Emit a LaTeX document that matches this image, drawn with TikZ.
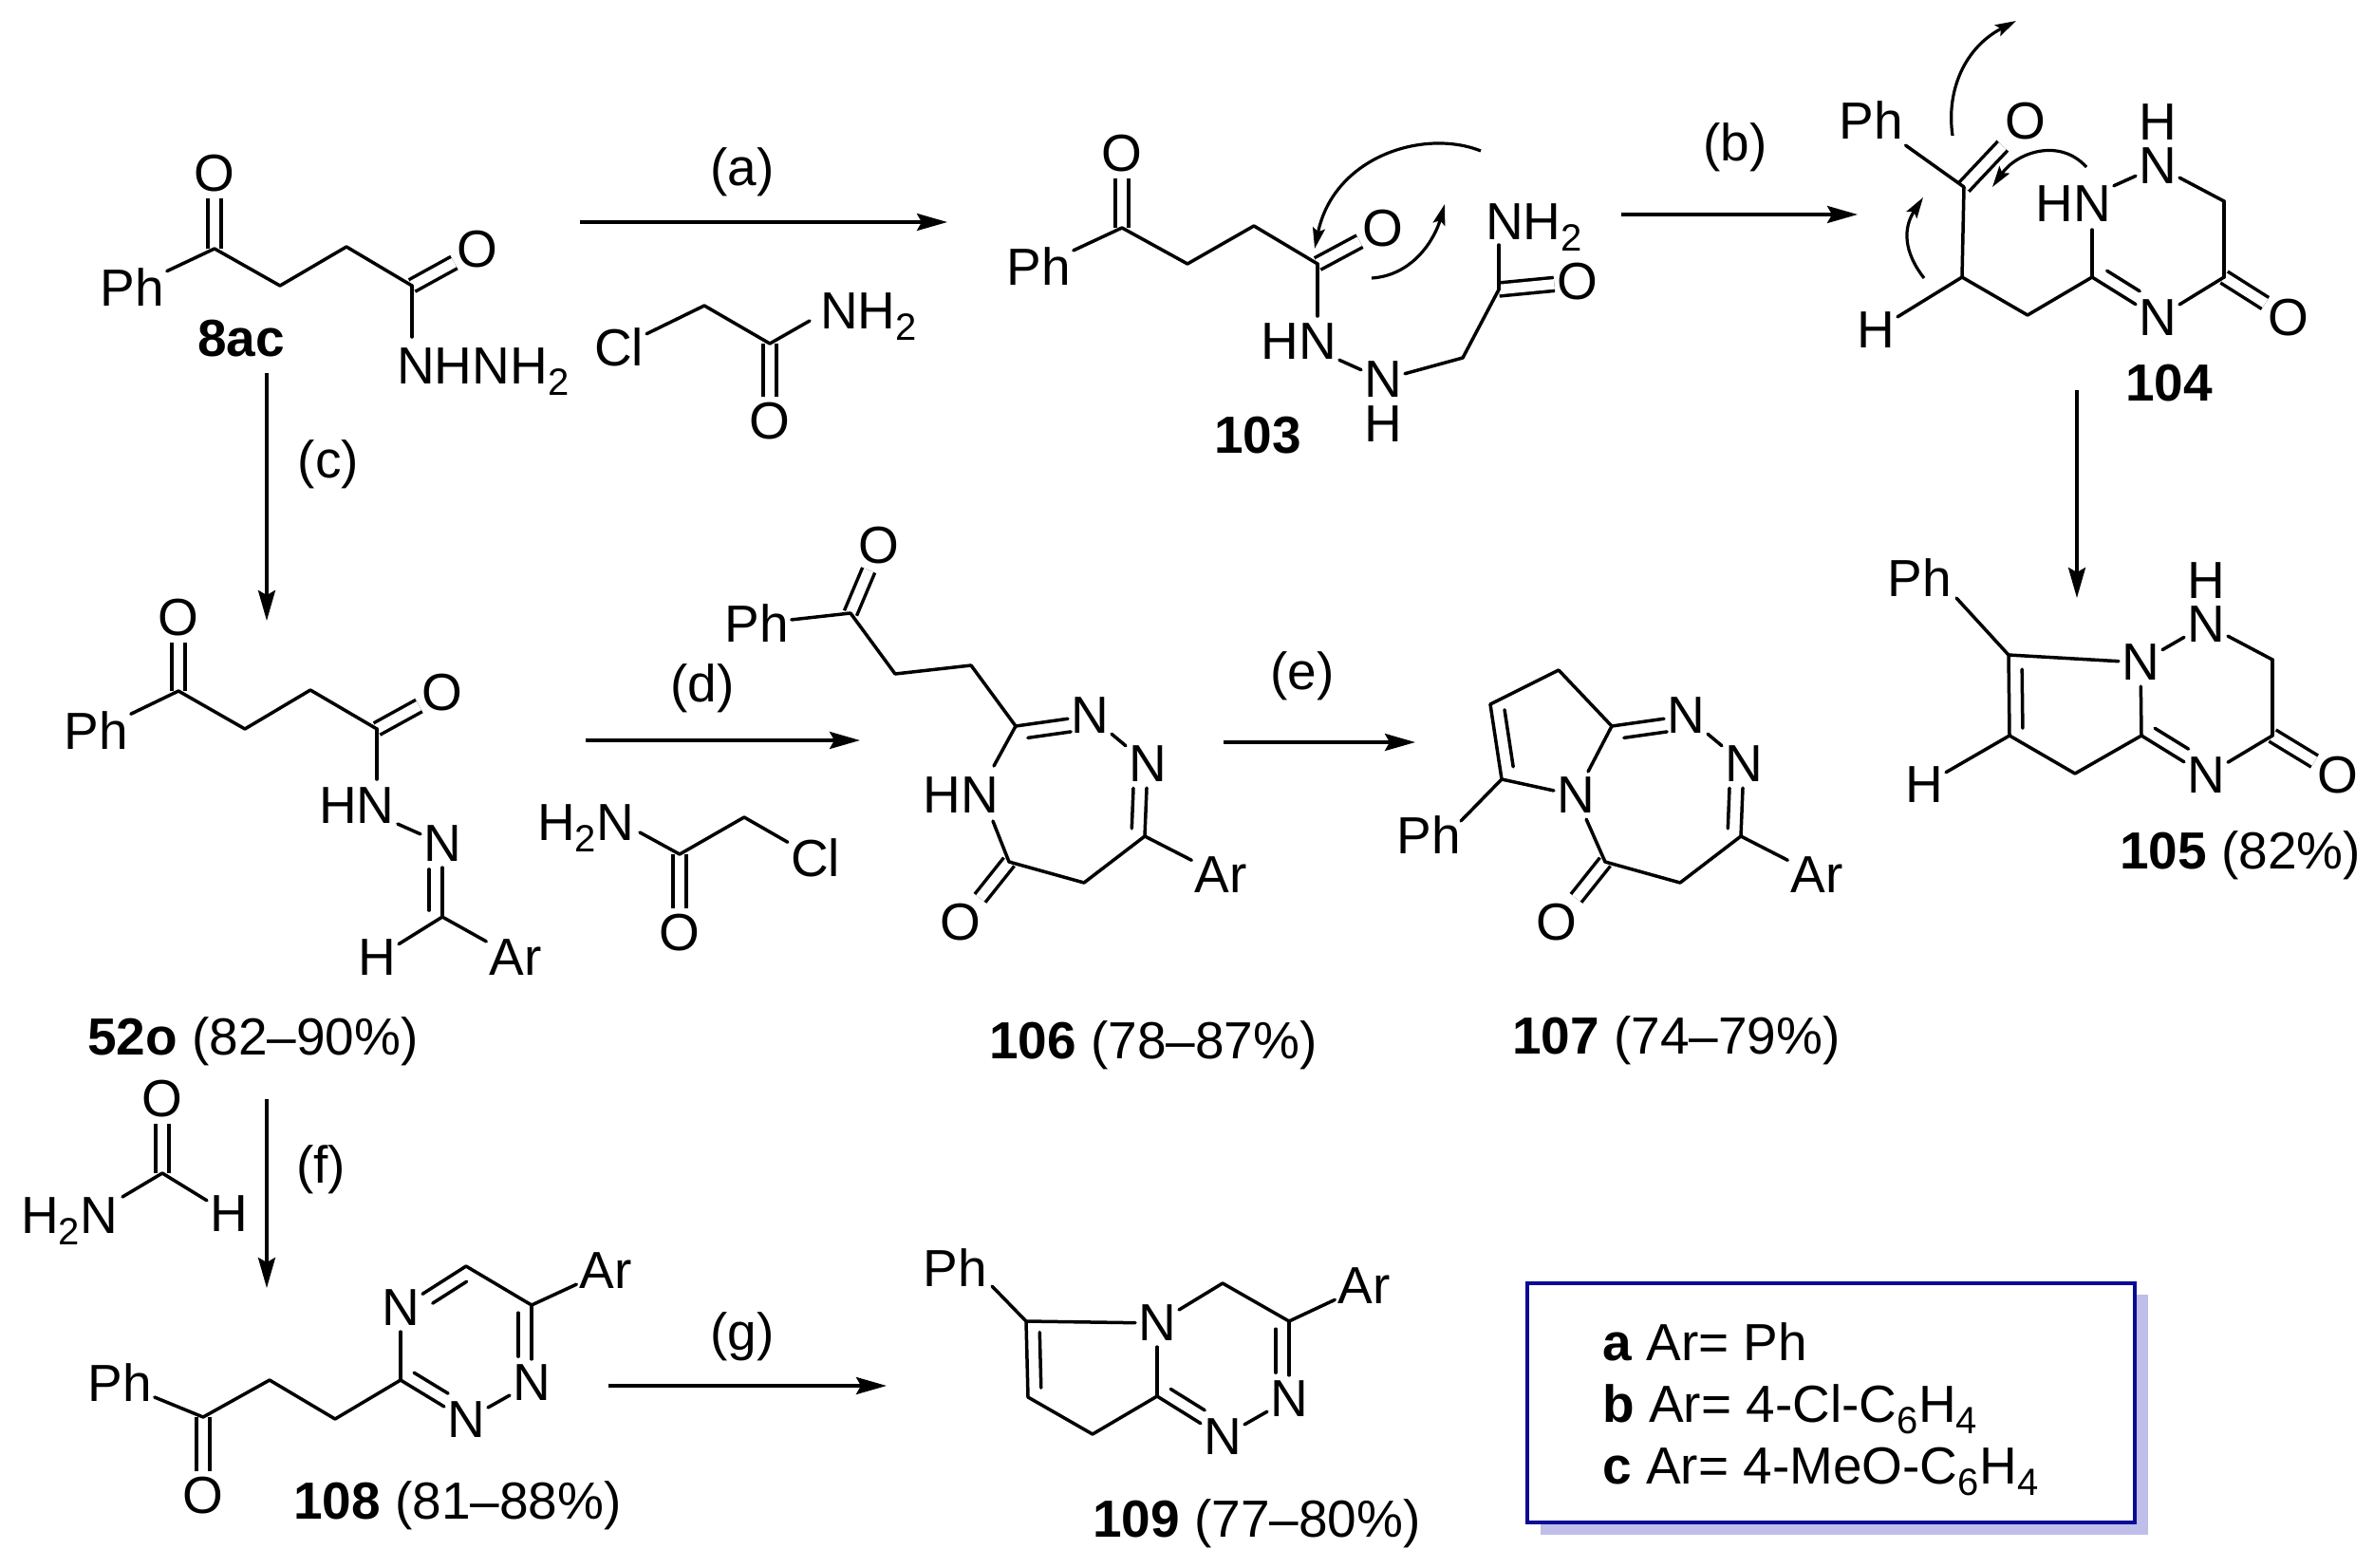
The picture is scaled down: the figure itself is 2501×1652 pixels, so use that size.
\documentclass[tikz,border=0pt]{standalone}
\usepackage{fontspec}
\setmainfont{Liberation Sans}
\usetikzlibrary{calc,arrows.meta}
\newcommand{\subs}[1]{\raisebox{-12pt}{\fontsize{40pt}{42pt}\selectfont #1}\kern0.6pt}
\newcommand{\atomn}[4]{\node[atom] (#1) at (#2,#3) {#4};}
\newcommand{\carb}[3]{\coordinate (#1) at (#2,#3);}
\newcommand{\sbond}[2]{\draw[bond] (#1) -- (#2);}
\newcommand{\cdbond}[2]{\draw[dbond] (#1) -- (#2);}
\newcommand{\rdbond}[5]{\draw[bond] (#1) -- (#2);
  \draw[bond] ($(#1)!#4!(#2)!14pt!#3:(#2)$) -- ($(#1)!#5!(#2)!14pt!#3:(#2)$);}
\tikzset{
  atom/.style={font=\fontsize{55pt}{60pt}\selectfont,inner xsep=3pt,inner ysep=6pt},
  tightatom/.style={atom,inner ysep=0pt},
  txt/.style={font=\fontsize{55pt}{60pt}\selectfont,inner sep=0pt},
  bond/.style={line width=3.5pt,line cap=round,line join=round},
  dbond/.style={line width=3.5pt,double,double distance=10.5pt},
  rxn/.style={line width=3.5pt,-{Stealth[length=32pt,width=18pt,inset=5pt]}},
  curly/.style={line width=3.2pt,-{Stealth[length=22pt,width=13pt,inset=4pt]}},
  legendbox/.style={draw=legendblue,line width=4.5pt,fill=white,minimum width=640pt,minimum height=252pt,inner sep=0pt}
}
\definecolor{legendblue}{RGB}{10,10,150}
\definecolor{legendshadow}{RGB}{190,190,232}
\begin{document}
\begin{tikzpicture}[x=1pt,y=-1pt]
\useasboundingbox (0,0) rectangle (2501,1652);
\fill[white] (0,0) rectangle (2501,1652);

% ---------- 8ac
\atomn{aO1}{226}{183}{O} \atomn{aPh}{139}{303}{Ph} \atomn{aO2}{503}{263}{O}
\carb{aC1}{226}{262} \carb{aC2}{295}{301} \carb{aC3}{365}{260} \carb{aC4}{434}{301} \carb{aNe}{434}{355}
\node[txt,anchor=base west] (aN) at (418,404) {NHNH\subs{2}};
\cdbond{aC1}{aO1} \cdbond{aC4}{aO2}
\sbond{aPh}{aC1} \sbond{aC1}{aC2} \sbond{aC2}{aC3} \sbond{aC3}{aC4} \sbond{aC4}{aNe}
\node[txt] (l8ac) at (254,357) {\bfseries 8ac};

% ---------- chloroacetamide (a)
\atomn{rCl}{652}{366}{Cl} \atomn{rO}{811}{444}{O}
\carb{rC1}{742}{322} \carb{rC2}{811}{362} \carb{rNe}{853}{338}
\node[txt,anchor=base west] (rN) at (864,346) {NH\subs{2}};
\cdbond{rC2}{rO}
\sbond{rCl}{rC1} \sbond{rC1}{rC2} \sbond{rC2}{rNe}

% ---------- 103
\atomn{bO1}{1182}{162}{O} \atomn{bPh}{1094}{281}{Ph} \atomn{bO2}{1457}{241}{O}
\atomn{bHN}{1368}{360}{HN} \atomn{bN}{1457}{400}{N} \node[tightatom] (bH) at (1457,447) {H}; \atomn{bO3}{1662}{297}{O}
\carb{bC1}{1182}{240} \carb{bC2}{1251}{278} \carb{bC3}{1321}{238} \carb{bC4}{1388}{278}
\carb{bC5}{1541}{377} \carb{bC6}{1579}{305} \carb{bNe}{1579}{258} \carb{bHNe}{1388}{333}
\node[txt,anchor=base west] (bNH) at (1565,252) {NH\subs{2}};
\cdbond{bC1}{bO1} \cdbond{bC4}{bO2} \cdbond{bC6}{bO3}
\sbond{bPh}{bC1} \sbond{bC1}{bC2} \sbond{bC2}{bC3} \sbond{bC3}{bC4} \sbond{bC4}{bHNe}
\sbond{bHN}{bN} \sbond{bN}{bC5} \sbond{bC5}{bC6} \sbond{bC6}{bNe}
\node[txt] (l103) at (1325,459) {\bfseries 103};
\carb{bc1s}{1560}{159} \carb{bc1e}{1385}{262} \carb{bc2s}{1445}{293} \carb{bc2e}{1522}{215}
\draw[curly] (bc1s) .. controls (1500,135) and (1405,165) .. (bc1e);
\draw[curly] (bc2s) .. controls (1490,290) and (1512,250) .. (bc2e);

% ---------- 104
\atomn{cPh}{1971}{127}{Ph} \atomn{cO1}{2134}{128}{O} \node[tightatom] (cH1) at (2273,129) {H}; \atomn{cN1}{2273}{175}{N}
\atomn{cHN}{2184}{215}{HN} \atomn{cN2}{2273}{335}{N} \atomn{cO2}{2411}{335}{O} \atomn{cH2}{1976}{348}{H}
\carb{cC1}{2069}{197} \carb{cC2}{2067}{292} \carb{cC3}{2136}{332} \carb{cC4}{2204}{292}
\carb{cC5}{2343}{212} \carb{cC6}{2343}{292} \carb{cHNe}{2204}{242}
\cdbond{cC1}{cO1} \cdbond{cC6}{cO2}
\sbond{cPh}{cC1} \sbond{cC1}{cC2} \sbond{cC2}{cH2} \sbond{cC2}{cC3} \sbond{cC3}{cC4} \sbond{cC4}{cHNe}
\sbond{cHN}{cN1} \sbond{cN1}{cC5} \sbond{cC5}{cC6} \sbond{cC6}{cN2}
\rdbond{cC4}{cN2}{90}{0.12}{0.62}
\node[txt] (l104) at (2285,404) {\bfseries 104};
\carb{cc1s}{2057}{143} \carb{cc1e}{2124}{22} \carb{cc2s}{2198}{176} \carb{cc2e}{2099}{197} \carb{cc3s}{2027}{293} \carb{cc3e}{2026}{208}
\draw[curly] (cc1s) .. controls (2050,95) and (2070,50) .. (cc1e);
\draw[curly] (cc2s) .. controls (2170,145) and (2125,160) .. (cc2e);
\draw[curly] (cc3s) .. controls (2005,265) and (2005,240) .. (cc3e);

% ---------- 105
\atomn{dPh}{2022}{609}{Ph} \atomn{dN1}{2255}{698}{N} \node[tightatom] (dH1) at (2324,612) {H}; \atomn{dN2}{2324}{658}{N}
\atomn{dN3}{2324}{817}{N} \atomn{dO}{2463}{817}{O} \atomn{dH2}{2027}{827}{H}
\carb{dC1}{2116}{690} \carb{dC2}{2117}{775} \carb{dC3}{2186}{815} \carb{dC4}{2256}{775} \carb{dC5}{2394}{695} \carb{dC6}{2394}{775} \carb{dPe}{2061}{630}
\cdbond{dC6}{dO}
\sbond{dPe}{dC1} \sbond{dC1}{dN1} \sbond{dN1}{dN2} \sbond{dN2}{dC5} \sbond{dC5}{dC6} \sbond{dC6}{dN3}
\sbond{dN1}{dC4} \sbond{dC2}{dH2} \sbond{dC2}{dC3} \sbond{dC3}{dC4}
\rdbond{dC1}{dC2}{90}{0.18}{0.91}
\rdbond{dC4}{dN3}{90}{0.1}{0.62}
\node[txt,anchor=base west] (l105) at (2233,915) {\textbf{105} (82\%)};

% ---------- 52o
\atomn{eO1}{188}{651}{O} \atomn{ePh}{101}{770}{Ph} \atomn{eO2}{466}{730}{O} \atomn{eHN}{376}{849}{HN}
\atomn{eN}{466}{889}{N} \atomn{eH}{397}{1009}{H} \atomn{eAr}{543}{1009}{Ar}
\carb{eC1}{188}{728} \carb{eC2}{258}{768} \carb{eC3}{327}{727} \carb{eC4}{397}{768} \carb{eC5}{466}{966} \carb{eHNe}{397}{821}
\cdbond{eC1}{eO1} \cdbond{eC4}{eO2}
\sbond{ePh}{eC1} \sbond{eC1}{eC2} \sbond{eC2}{eC3} \sbond{eC3}{eC4} \sbond{eC4}{eHNe}
\sbond{eHN}{eN} \sbond{eC5}{eH} \sbond{eC5}{eAr}
\rdbond{eC5}{eN}{90}{0.09}{0.65}
\node[txt,anchor=base west] (l52o) at (92,1111) {\textbf{52o} (82–90\%)};

% ---------- chloroacetamide (d)
\atomn{sO}{716}{983}{O} \atomn{sCl}{859}{904}{Cl}
\carb{sC1}{716}{900} \carb{sC2}{784}{861} \carb{sNe}{674}{877}
\node[txt,anchor=base west] (sN) at (566,885) {H\subs{2}N};
\cdbond{sC1}{sO}
\sbond{sNe}{sC1} \sbond{sC1}{sC2} \sbond{sC2}{sCl}

% ---------- 106
\atomn{fO1}{926}{575}{O} \atomn{fPh}{797}{657}{Ph} \atomn{fN1}{1148}{754}{N} \atomn{fN2}{1209}{805}{N}
\atomn{fHN}{1012}{838}{HN} \atomn{fAr}{1286}{922}{Ar} \atomn{fO2}{1012}{972}{O}
\carb{fC1}{896}{646} \carb{fC2}{943}{710} \carb{fC3}{1023}{701} \carb{fC4}{1070}{765}
\carb{fC5}{1206}{881} \carb{fC6}{1142}{930} \carb{fC7}{1063}{908} \carb{fHNa}{1047}{807} \carb{fHNb}{1046}{865}
\cdbond{fC1}{fO1} \cdbond{fC7}{fO2}
\sbond{fPh}{fC1} \sbond{fC1}{fC2} \sbond{fC2}{fC3} \sbond{fC3}{fC4} \sbond{fC4}{fHNa} \sbond{fHNb}{fC7}
\sbond{fN1}{fN2} \sbond{fC5}{fAr} \sbond{fC5}{fC6} \sbond{fC6}{fC7}
\rdbond{fC4}{fN1}{-90}{0.14}{0.72}
\rdbond{fC5}{fN2}{90}{0.1}{0.66}
\node[txt,anchor=base west] (l106) at (1042,1115) {\textbf{106} (78–87\%)};

% ---------- 107
\atomn{gPh}{1505}{880}{Ph} \atomn{gN0}{1660}{838}{N} \atomn{gN1}{1776}{754}{N} \atomn{gN2}{1837}{805}{N}
\atomn{gAr}{1914}{922}{Ar} \atomn{gO}{1640}{972}{O}
\carb{gC1}{1698}{765} \carb{gC2}{1642}{706} \carb{gC3}{1570}{742} \carb{gC4}{1582}{821}
\carb{gC5}{1834}{881} \carb{gC6}{1770}{930} \carb{gC7}{1691}{908} \carb{gPe}{1539}{865}
\cdbond{gC7}{gO}
\sbond{gC1}{gC2} \sbond{gC2}{gC3} \sbond{gC4}{gPe} \sbond{gC4}{gN0} \sbond{gC1}{gN0} \sbond{gN0}{gC7}
\sbond{gN1}{gN2} \sbond{gC5}{gAr} \sbond{gC5}{gC6} \sbond{gC6}{gC7}
\rdbond{gC3}{gC4}{90}{0.1}{0.86}
\rdbond{gC1}{gN1}{-90}{0.14}{0.72}
\rdbond{gC5}{gN2}{90}{0.1}{0.66}
\node[txt,anchor=base west] (l107) at (1593,1110) {\textbf{107} (74–79\%)};

% ---------- formamide (f)
\atomn{hO}{171}{1158}{O} \atomn{hH}{241}{1279}{H}
\carb{hC}{171}{1236} \carb{hNe}{129}{1261}
\node[txt,anchor=base west] (hN) at (22,1299) {H\subs{2}N};
\cdbond{hC}{hO}
\sbond{hNe}{hC} \sbond{hC}{hH}

% ---------- 108
\atomn{iPh}{126}{1457}{Ph} \atomn{iO}{214}{1576}{O} \atomn{iN1}{422}{1378}{N} \atomn{iN2}{560}{1457}{N}
\atomn{iN3}{491}{1496}{N} \atomn{iAr}{638}{1339}{Ar}
\carb{iC1}{214}{1493} \carb{iC2}{284}{1454} \carb{iC3}{353}{1495} \carb{iC4}{422}{1454} \carb{iC5}{491}{1334} \carb{iC6}{560}{1375}
\cdbond{iC1}{iO}
\sbond{iPh}{iC1} \sbond{iC1}{iC2} \sbond{iC2}{iC3} \sbond{iC3}{iC4} \sbond{iC4}{iN1}
\sbond{iC5}{iC6} \sbond{iC6}{iAr} \sbond{iN2}{iN3}
\rdbond{iC5}{iN1}{90}{0.1}{0.62}
\rdbond{iC6}{iN2}{-90}{0.1}{0.66}
\rdbond{iC4}{iN3}{90}{0.1}{0.62}
\node[txt,anchor=base west] (l108) at (309,1600) {\textbf{108} (81–88\%)};

% ---------- 109
\atomn{jPh}{1006}{1336}{Ph} \atomn{jN1}{1219}{1394}{N} \atomn{jAr}{1437}{1355}{Ar} \atomn{jN2}{1358}{1474}{N} \atomn{jN3}{1288}{1514}{N}
\carb{jC1}{1081}{1392} \carb{jC2}{1083}{1472} \carb{jC3}{1151}{1511} \carb{jC4}{1219}{1471} \carb{jC5}{1288}{1352} \carb{jC6}{1358}{1392} \carb{jPe}{1045}{1355}
\sbond{jPe}{jC1} \sbond{jC1}{jN1} \sbond{jN1}{jC5} \sbond{jC5}{jC6} \sbond{jC6}{jAr} \sbond{jN1}{jC4}
\sbond{jC2}{jC3} \sbond{jC3}{jC4} \sbond{jN2}{jN3}
\rdbond{jC1}{jC2}{90}{0.15}{0.88}
\rdbond{jC6}{jN2}{-90}{0.1}{0.66}
\rdbond{jC4}{jN3}{90}{0.1}{0.62}
\node[txt,anchor=base west] (l109) at (1151,1619) {\textbf{109} (77–80\%)};

% ---------- reaction arrows
\carb{ra1}{611}{234} \carb{ra2}{998}{234}
\carb{rb1}{1708}{226} \carb{rb2}{1957}{226}
\carb{rc1}{281}{393} \carb{rc2}{281}{654}
\carb{rd1}{617}{780} \carb{rd2}{906}{780}
\carb{re1}{1289}{782} \carb{re2}{1491}{782}
\carb{rf1}{281}{1158} \carb{rf2}{281}{1357}
\carb{rg1}{641}{1460} \carb{rg2}{934}{1460}
\carb{rh1}{2188}{411} \carb{rh2}{2188}{630}
\draw[rxn] (ra1) -- (ra2);
\draw[rxn] (rb1) -- (rb2);
\draw[rxn] (rc1) -- (rc2);
\draw[rxn] (rd1) -- (rd2);
\draw[rxn] (re1) -- (re2);
\draw[rxn] (rf1) -- (rf2);
\draw[rxn] (rg1) -- (rg2);
\draw[rxn] (rh1) -- (rh2);
\node[txt] (ta) at (782,181) {(a)};
\node[txt] (tb) at (1828,155) {(b)};
\node[txt] (tc) at (346,489) {(c)};
\node[txt] (td) at (740,725) {(d)};
\node[txt] (te) at (1372,712) {(e)};
\node[txt] (tf) at (338,1232) {(f)};
\node[txt] (tg) at (782,1408) {(g)};

% ---------- legend
\fill[legendshadow] (1623,1364) rectangle (2263,1617);
\node[legendbox] (legend) at (1929,1478) {};
\node[txt,anchor=base west] (la) at (1688,1433) {\textbf{a} Ar= Ph};
\node[txt,anchor=base west] (lb) at (1688,1498) {\textbf{b} Ar= 4-Cl-C\subs{6}H\subs{4}};
\node[txt,anchor=base west] (lc) at (1688,1563) {\textbf{c} Ar= 4-MeO-C\subs{6}H\subs{4}};
\end{tikzpicture}
\end{document}
